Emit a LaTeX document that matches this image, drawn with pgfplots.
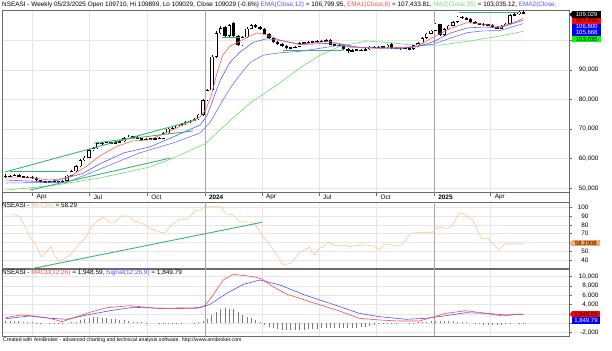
\documentclass[border=0pt]{standalone}
\usepackage{pgfplots}
\usepackage{pgfplotstable}
\pgfplotsset{compat=1.18}
\usepackage{fontspec}
\setmainfont{Liberation Sans}

\definecolor{emared}{HTML}{FF5A5A}
\definecolor{emablue}{HTML}{5A5AFF}
\definecolor{emablueb}{HTML}{7070FF}
\definecolor{malime}{HTML}{66E066}
\definecolor{trend}{HTML}{3CB371}
\definecolor{mfic}{HTML}{FFC48C}
\definecolor{gridc}{HTML}{E6E6E6}
\definecolor{gridy}{HTML}{A8A8A8}
\definecolor{frame}{HTML}{6A6A6A}
\definecolor{macdred}{HTML}{FF4848}
\definecolor{macdblue}{HTML}{5050FF}
\definecolor{histc}{HTML}{7A7A7A}
\definecolor{tblue}{HTML}{5050FF}
\definecolor{tred}{HTML}{FF5050}
\definecolor{tlime}{HTML}{70DC70}
\definecolor{tmfi}{HTML}{FFB870}
\definecolor{boxorange}{HTML}{FFAA60}

\pgfplotstableread{
k o h l c
0 54300 54700 53600 53900
1 53900 54600 53700 54300
2 54300 54900 54100 54500
3 54600 54800 53800 54000
4 54000 54300 53600 53800
5 53800 54100 53500 53700
6 53700 54000 53300 53600
7 53600 53800 52500 52700
8 52700 52900 51800 52100
9 52100 52600 51900 52300
10 52300 52500 51700 52000
11 52000 52700 51800 52400
12 52400 52600 52000 52300
13 52300 52900 52100 52600
14 52600 54500 52400 54200
15 54200 56100 54000 55800
16 55800 57800 55600 57500
17 57500 59900 57300 59500
18 59500 60800 59200 60400
19 60400 63300 60200 62900
20 62900 64000 62600 63600
21 63600 65700 63400 65300
22 65300 65700 64700 65000
23 65000 65900 64800 65500
24 65500 65800 64900 65200
25 65200 65900 65000 65600
26 65600 66200 65400 65900
27 65900 67200 65700 66900
28 66900 67900 66700 67500
29 67500 67800 67000 67300
30 67400 67700 66600 66900
31 66900 67100 66100 66400
32 66400 67100 66200 66800
33 66800 67000 66300 66600
34 66600 67300 66400 67000
35 67000 67200 66500 66800
36 66800 68900 66600 68600
37 68600 70600 68400 70200
38 70200 70900 69900 70500
39 70500 71500 70300 71200
40 71200 72000 71000 71700
41 71700 72600 71500 72300
42 72300 73200 72100 72900
43 72900 73700 72700 73400
44 73400 75100 73200 74800
45 74800 80300 74600 79800
46 79800 83700 79500 83200
47 83200 95000 83000 94500
48 94500 103000 94200 102400
49 102400 104800 102000 104200
50 104600 105000 101200 101500
51 101500 105600 101200 105200
52 105800 106200 101200 101500
53 101500 101900 98100 98400
54 98400 101500 98100 101100
55 101100 104400 100800 104000
56 104000 105600 103700 105200
57 105200 105500 104300 104600
58 104600 104900 103500 103800
59 103800 104100 102000 102300
60 102300 102600 100500 100800
61 100800 101100 99200 99500
62 99500 99800 98400 98700
63 98700 99000 97900 98200
64 98200 98500 97100 97400
65 97400 97900 97100 97600
66 97600 98200 97300 97900
67 97900 99300 97700 99000
68 99000 99600 98800 99300
69 99300 99800 99000 99500
70 99500 99900 99200 99600
71 99600 100100 99300 99800
72 99800 100000 99400 99700
73 99700 100400 99500 100100
74 100100 100400 98300 98600
75 98600 98900 98100 98400
76 98400 98800 98100 98500
77 98500 98800 96900 97200
78 97200 97500 95600 96300
79 96300 97000 96000 96700
80 96700 97200 96400 96900
81 96900 97200 96300 96600
82 96600 97300 96400 97000
83 97000 98100 96800 97800
84 97800 98100 97300 97600
85 97600 98200 97400 97900
86 97900 98200 97400 97700
87 97700 98800 97500 98500
88 98800 99100 97000 97300
89 97300 97800 97100 97500
90 97500 97800 96900 97200
91 97200 97700 97000 97400
92 97400 97600 96800 97100
93 97100 98600 96900 98300
94 98300 99300 98100 99000
95 99000 101100 98800 100800
96 100800 102500 100600 102200
97 102200 103600 102000 103300
98 103300 105900 103100 105600
99 105400 105700 101500 101800
100 101800 104100 101600 103800
101 103800 105300 103600 105000
102 105000 106500 104800 106200
103 106200 108300 106000 108000
104 108000 108400 107200 107500
105 107500 107800 106900 107200
106 107200 107500 106000 106300
107 106300 106600 105400 105700
108 105700 106000 105300 105600
109 105600 105900 104900 105200
110 105200 105600 105000 105300
111 105300 105500 104200 104500
112 104500 104800 103700 104000
113 104000 105200 103800 104900
114 104900 105900 104700 105600
115 105600 108800 105400 108500
116 108500 109200 108300 108900
117 108900 110000 108700 109710
118 109710 109899 109029 109029
}\candles

\newcommand\tf{\fontsize{6.4bp}{7.5bp}\selectfont}

\pgfplotsset{
  chartbase/.style={
    scale only axis, width=567bp, xmin=-0.84, xmax=128.43,
    axis line style={draw=frame, line width=0.6bp},
    xtick={6.14,19.14,32.29,58.43,71.43,84.57,110.57},
    extra x ticks={45.43,97.71},
    extra x tick style={major grid style={draw=gridy, line width=0.6bp}},
    grid=major, major grid style={draw=gridc, line width=0.5bp},
    ytick pos=right, yticklabel pos=right, xtick pos=left,
    tick align=outside, major tick length=3bp,
    every tick/.style={draw=frame, line width=0.5bp},
    tick label style={font=\tf},
    scaled y ticks=false,
  },
}

\begin{document}
\begin{tikzpicture}
\path[use as bounding box] (0bp,0bp) rectangle (612bp,351bp);

% ---------------- main price panel ----------------
\begin{axis}[chartbase, at={(2bp,158.3bp)}, anchor=south west, height=182.7bp,
  ymin=48513, ymax=110265,
  ytick={50000,60000,70000,80000,90000,100000},
  yticklabels={{50,000},{60,000},{70,000},{80,000},{90,000},{}},
  xticklabels={Apr,Jul,Oct,Apr,Jul,Oct,Apr},
  extra x tick labels={\textbf{2024},\textbf{2025}},
  xticklabel style={anchor=west, xshift=0.6bp, yshift=-1.6bp},
  yticklabel style={anchor=east, xshift=30bp},
]
% wicks
\addplot[draw=none, mark=none, forget plot,
  error bars/.cd, y dir=plus, y explicit, error mark=none,
  error bar style={draw=black, line width=0.6bp}]
  table[x=k, y=l, y error plus expr={\thisrow{h}-\thisrow{l}}] {\candles};
% bodies
\addplot[draw=none, mark=none, forget plot,
  error bars/.cd, y dir=both, y explicit, error mark=none,
  error bar style={draw=black, line width=3.4bp}]
  table[x=k, y expr={(\thisrow{o}+\thisrow{c})/2}, y error expr={max(abs(\thisrow{c}-\thisrow{o})/2,140)}] {\candles};
% hollow up candles
\addplot[draw=none, mark=none, forget plot,
  restrict expr to domain={\thisrow{c}-\thisrow{o}}{420:1000000},
  error bars/.cd, y dir=both, y explicit, error mark=none,
  error bar style={draw=white, line width=2.2bp}]
  table[x=k, y expr={(\thisrow{o}+\thisrow{c})/2}, y error expr={abs(\thisrow{c}-\thisrow{o})/2-190}] {\candles};

% MA2(35)
\addplot[malime, line width=0.6bp, mark=none] coordinates {
(0,49400) (10.1,50800) (21.5,53500) (32.9,57200) (37.5,59800) (45.4,65000) (51.1,72800) (55.7,78800) (62.5,85600) (67.1,90700) (71.7,95000) (76.2,98000) (82.4,99800) (87.6,99200) (92.2,98500) (99.0,98400) (105.9,99800) (112.7,101500) (118,103035)};
% EMA2
\addplot[emablueb, line width=0.6bp, mark=none] coordinates {
(0,51800) (14.0,52000) (21.5,56500) (30.6,62000) (38.1,65300) (44.3,68700) (46.6,72300) (50.5,82300) (52.7,87000) (55.7,92500) (58.7,95000) (62.5,95800) (67.1,96300) (75.5,98200) (83.1,97500) (89.9,97300) (97.4,98700) (101.3,100700) (105.2,102600) (108.8,103200) (112.7,103300) (118,105668)};
% EMA12
\addplot[emablue, line width=0.6bp, mark=none] coordinates {
(0,52800) (10.1,52100) (17.6,55000) (21.5,58300) (27,62000) (32.9,64000) (38.1,67300) (44.3,71400) (45.9,74500) (48.9,86500) (51.1,92500) (53.4,96000) (56.4,99300) (59.6,100600) (62.5,100000) (67.1,98600) (75.5,99100) (80.8,97500) (89.9,97400) (93.8,97800) (97.4,99500) (101.3,102400) (105.2,104200) (108.8,104500) (112.7,104300) (118,106800)};
% EMA8
\addplot[emared, line width=0.6bp, mark=none] coordinates {
(0,53500) (6.2,53500) (10.1,52800) (14.0,53400) (18.5,57500) (21.5,61000) (25.5,64300) (29.0,66000) (32.9,66400) (38.1,69800) (44.3,74100) (45.5,76300) (46.8,81000) (48.2,89000) (49.5,95000) (51.1,98000) (53.4,99700) (55.0,101000) (57.3,102500) (59.6,101800) (62.5,100100) (67.1,98700) (73.9,99700) (78.5,97700) (85.3,97300) (89.9,97600) (93.8,98000) (97.4,101000) (101.3,104000) (105.2,106000) (108.8,105500) (112.7,104600) (115.7,106000) (118,107434)};

% trend lines
\addplot[trend, line width=0.9bp, mark=none] coordinates {(-0.16,55500) (43.4,73100)};
\addplot[trend, line width=0.9bp, mark=none] coordinates {(20.1,65300) (42.7,69400)};
\addplot[trend, line width=0.9bp, mark=none] coordinates {(5.5,49400) (37.5,60200)};
\addplot[trend, line width=0.9bp, mark=none] coordinates {(1.0,55800) (14.0,55800)};
\addplot[trend, line width=0.9bp, mark=none] coordinates {(49.3,100900) (53.4,100900)};
\addplot[trend, line width=0.9bp, mark=none] coordinates {(63.2,96500) (76.9,96500)};
\addplot[trend, line width=0.9bp, mark=none] coordinates {(103.4,109350) (117.0,109350)};
\end{axis}

% ---------------- MFI panel ----------------
\begin{axis}[chartbase, at={(2bp,82.2bp)}, anchor=south west, height=66.5bp,
  ymin=30, ymax=105.7, ytick={40,50,60,70,80,90,100},
  yticklabels={40,50,{},70,80,90,100},
  xticklabels={}, extra x tick labels={}, xtick style={draw=none},
  yticklabel style={anchor=east, xshift=20bp},
]
\addplot[mfic, line width=0.6bp, mark=none] coordinates {
(0,91.3) (2.1,91.3) (3.3,89.4) (5.5,66.6) (7.1,55.2) (8.2,43.1) (9.3,49.5) (10.3,56) (10.9,47.7) (12.0,38.1) (13.5,42) (14.7,45.6) (16.2,55.2) (18.1,64.7) (19.6,77.9) (20.7,83.6) (22.3,88.6) (23.8,82.9) (24.9,82.9) (26.4,90.1) (28.0,90.1) (29.1,84.8) (31.4,81) (33.7,74.2) (35.6,71.1) (36.3,71.1) (37.8,79.9) (39.7,86.4) (41.3,86.4) (43.2,96.2) (44.3,96.2) (45.4,100.7) (48.9,100.7) (50.4,92.4) (51.9,91.3) (53.4,83.6) (56.5,82.9) (57.2,77.9) (58.7,66.6) (60.3,57.2) (61.8,45.7) (63.3,34.3) (65.2,36.9) (67.1,49.5) (68.5,52) (69.2,55.2) (70.4,45.7) (71.5,53.3) (72.6,55.2) (73.4,60.2) (75.3,56) (77.2,57.2) (78.3,55.2) (79.9,56.3) (82.1,57.2) (84.0,56) (85.2,51.4) (86.3,58.2) (88.2,57.2) (90.1,56) (92.4,70.4) (94.7,71.6) (97.4,71.6) (98.5,77.3) (100.4,76.1) (101.5,77.3) (103.4,93.2) (104.2,93.2) (106.5,85.6) (108.4,64.7) (109.9,64.7) (112.5,51.4) (113.7,58.2) (114.8,58.2) (117.0,58.2) (118,58.29)};
\addplot[trend, line width=0.9bp, mark=none] coordinates {(5.5,29.7) (58.4,82.9)};
\end{axis}

% ---------------- MACD panel ----------------
\begin{axis}[chartbase, at={(2bp,15bp)}, anchor=south west, height=67bp,
  ymin=-2700, ymax=11656, ytick={-2000,0,2000,4000,6000,8000,10000},
  yticklabels={{-2,000},{},{},{4,000},{6,000},{8,000},{10,000}},
  xticklabels={}, extra x tick labels={}, xtick style={draw=none},
  yticklabel style={anchor=east, xshift=30bp},
]
\addplot[ycomb, histc, line width=0.7bp, mark=none] coordinates {
(0,500) (1,600) (2,600) (3,500) (4,400) (5,300) (6,200) (7,100) (8,100)
(9,0) (10,-100) (11,-100) (12,-150) (13,-100) (14,0)
(15,200) (16,400) (17,700) (18,900) (19,1100) (20,1300)
(21,1300) (22,1200) (23,1100) (24,1000) (25,900)
(26,800) (27,700) (28,600) (29,400) (30,300)
(31,200) (32,100) (33,0) (34,0) (35,-100) (36,-100) (37,-100) (38,-100) (39,-100) (40,-100) (41,0) (42,0) (43,100) (44,200)
(45,600) (46,1000) (47,1800) (48,2500) (49,3000) (50,3200) (51,3100) (52,3000) (53,2400) (54,1800) (55,1400) (56,1100) (57,700) (58,300)
(59,-300) (60,-700) (61,-950) (62,-1200) (63,-1400) (64,-1450) (65,-1450) (66,-1450) (67,-1400) (68,-1350)
(69,-1100) (70,-1100) (71,-1100) (72,-1050) (73,-1050) (74,-1050) (75,-1000) (76,-1000) (77,-1000) (78,-950) (79,-950) (80,-900) (81,-850)
(82,-700) (83,-500) (84,-300) (85,-200) (86,-150) (87,-100) (88,-100) (89,-50)
(90,0) (91,0) (92,50) (93,100) (94,200) (95,300) (96,400) (97,500) (98,600) (99,600) (100,600) (101,600) (102,500) (103,400) (104,300) (105,200)
(106,0) (107,-100) (108,-200) (109,-300) (110,-300) (111,-300) (112,-300) (113,-250) (114,-200) (115,-100) (116,0) (117,100) (118,100)};
\addplot[macdblue, line width=0.6bp, mark=none] coordinates {
(0,1000) (5.5,1590) (10.1,1090) (13.9,880) (18.5,1800) (23.8,2720) (29.1,3450) (35.2,3240) (44.3,3360) (46.6,4090) (50.4,6450) (54.2,8380) (58.0,9300) (62.5,8230) (68.2,6090) (74.6,4090) (80.6,2160) (85.2,1440) (91.3,880) (95.8,1090) (100.4,1650) (104.9,2290) (109.5,2160) (114.1,1800) (117.1,1950) (118,1849.79)};
\addplot[macdred, line width=0.6bp, mark=none] coordinates {
(0,1220) (3.3,1800) (6.3,1590) (10.1,1090) (12.8,360) (14.7,940) (19.2,2380) (23.0,3360) (28.3,3790) (32.1,3450) (35.9,3150) (43.5,3240) (45.4,3790) (47.3,6090) (49.6,9300) (51.9,10520) (56.5,10010) (58.4,9510) (61.0,7860) (64.1,6240) (67.1,5380) (68.5,4900) (72.3,3790) (76.1,2660) (80.6,1090) (85.2,730) (89.7,510) (94.3,510) (97.7,1440) (100.4,2160) (104.9,2720) (109.5,2160) (113.3,1590) (117.1,2010) (118,1948.59)};
\end{axis}

% strip borders between price panel and MFI
\draw[frame, line width=0.6bp] (2bp,148.7bp) -- (2bp,158.3bp);
\draw[frame, line width=0.6bp] (569bp,148.7bp) -- (569bp,158.3bp);

% texts
\node[anchor=west, inner sep=0, font=\tf] at (2bp,346bp) {NSEASI - Weekly 05/23/2025 Open 109710, Hi 109899, Lo 109029, Close 109029 (-0.6\%) \textcolor{tblue}{EMA(Close,12)} = 106,799.95, \textcolor{tred}{EMA1(Close,8)} = 107,433.81, \textcolor{tlime}{MA2(Close,35)} = 103,035.12, \textcolor{tblue}{EMA2(Close,}};
\node[anchor=west, inner sep=0, font=\tf] at (2bp,145.3bp) {NSEASI - \textcolor{tmfi}{MFI(14)} = 58.29};
\node[anchor=west, inner sep=0, font=\tf] at (2bp,77.7bp) {NSEASI - \textcolor{tred}{MACD(12,26)} = 1,948.59, \textcolor{tblue}{Signal(12,26,9)} = 1,849.79};
\node[anchor=west, inner sep=0, font=\fontsize{5.2bp}{6bp}\selectfont] at (3bp,10.7bp) {Created with AmiBroker - advanced charting and technical analysis software. http://www.amibroker.com};

% value boxes
\tikzset{vbox/.style={inner sep=0, minimum width=29bp, minimum height=6.1bp, anchor=west, font=\fontsize{6bp}{6bp}\selectfont}}
\fill[black] (569.5bp,336.5bp) -- (572.3bp,339.5bp) -- (572.3bp,333.5bp) -- cycle;
\node[vbox, fill=black, text=white] at (572bp,336.5bp) {109,029};
\node[vbox, fill=red, text=black] at (572bp,330.3bp) {107,434};
\node[vbox, fill=blue, text=white] at (572bp,324.1bp) {106,800};
\node[vbox, fill=blue, text=white] at (572bp,317.9bp) {105,668};
\node[vbox, fill=green, text=black] at (572bp,311.7bp) {103,035};

\fill[boxorange] (569.5bp,107.6bp) -- (572.3bp,110.6bp) -- (572.3bp,104.6bp) -- cycle;
\node[vbox, fill=boxorange, text=black, minimum width=27.5bp] at (572bp,107.6bp) {58.2908};

\fill[red] (569.5bp,36.7bp) -- (572.3bp,39.7bp) -- (572.3bp,33.7bp) -- cycle;
\node[vbox, fill=red, text=black, minimum width=27.5bp] at (572bp,36.7bp) {1,948.59};
\node[vbox, fill=blue, text=white, minimum width=27.5bp] at (572bp,30.5bp) {1,849.79};
\end{tikzpicture}
\end{document}
